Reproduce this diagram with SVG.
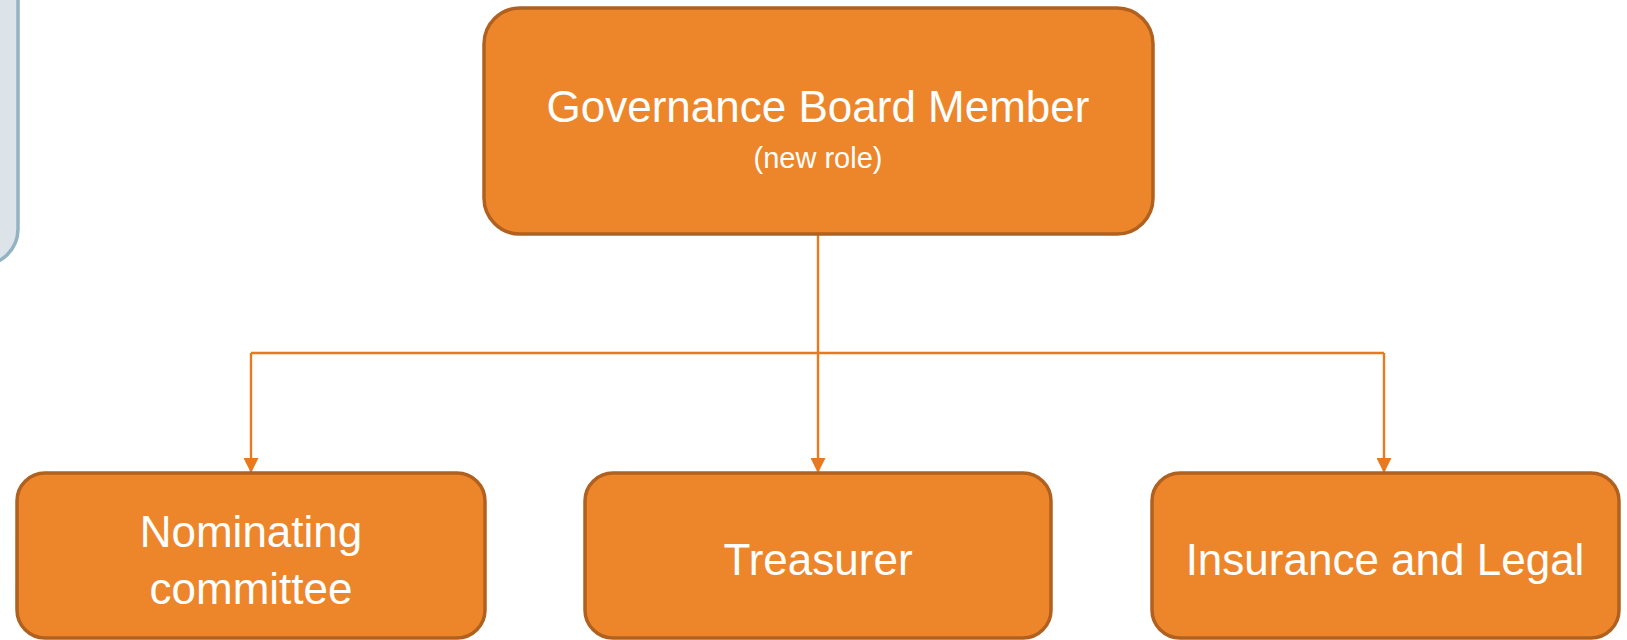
<svg xmlns="http://www.w3.org/2000/svg" width="1627" height="640" viewBox="0 0 1627 640">
<style>
.box{fill:#ED862A;stroke:#B0611F;stroke-width:3.5}
.t{font-family:"Liberation Sans",Arial,sans-serif;fill:#FFFFFF;text-anchor:middle}
.big{font-size:44px}
.small{font-size:29px}
.conn{fill:none;stroke:#E8791F;stroke-width:2.4}
</style>
<defs>
<marker id="arr" markerWidth="15" markerHeight="15" refX="14" refY="7.5" orient="auto" markerUnits="userSpaceOnUse">
<path d="M0,0 L15,7.5 L0,15 Z" fill="#E8791F"/>
</marker>
</defs>
<g id="side-box">
<rect x="-60" y="-40" width="78" height="305" rx="36" fill="#DCE4E9" stroke="#93B3C3" stroke-width="3.5"/>
</g>
<g id="connectors">
<path class="conn" d="M818,234 V353"/>
<path class="conn" d="M251,353 H1384"/>
<path class="conn" d="M251,353 V472" marker-end="url(#arr)"/>
<path class="conn" d="M818,353 V472" marker-end="url(#arr)"/>
<path class="conn" d="M1384,353 V472" marker-end="url(#arr)"/>
</g>
<g id="governance">
<rect class="box" x="484" y="8" width="669" height="226" rx="36"/>
<text class="t big" x="818" y="122">Governance Board Member</text>
<text class="t small" x="818" y="168">(new role)</text>
</g>
<g id="nominating">
<rect class="box" x="17" y="473" width="468" height="165" rx="28"/>
<text class="t big" x="251" y="547">Nominating</text>
<text class="t big" x="251" y="604">committee</text>
</g>
<g id="treasurer">
<rect class="box" x="585" y="473" width="466" height="165" rx="28"/>
<text class="t big" x="818" y="575">Treasurer</text>
</g>
<g id="insurance">
<rect class="box" x="1152" y="473" width="467" height="165" rx="28"/>
<text class="t big" x="1385" y="575">Insurance and Legal</text>
</g>
</svg>
